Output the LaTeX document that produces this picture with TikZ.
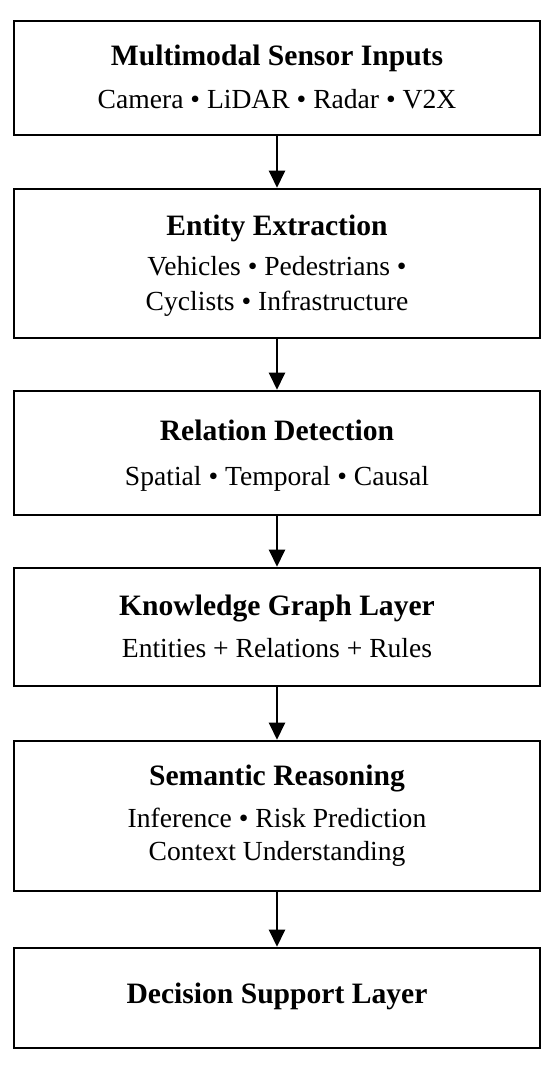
\documentclass[tikz,border=0pt]{standalone}
\usepackage{fontspec}
\setmainfont{Liberation Serif}
\usetikzlibrary{arrows.meta}
\begin{document}
\begin{tikzpicture}[x=1pt,y=-1pt,
  box/.style={draw=black,line width=2.6pt,minimum width=526pt,inner sep=0pt,fill=white},
  ttl/.style={anchor=base,inner sep=0pt,font=\fontsize{29.6}{34}\selectfont\bfseries},
  sub/.style={anchor=base,inner sep=0pt,font=\fontsize{27.6}{34}\selectfont},
  conn/.style={line width=2.4pt,-{Triangle[length=17pt,width=16pt]}}]
\useasboundingbox (0,0) rectangle (550,1069);
\fill[white] (0,0) rectangle (550,1069);
\node[box,minimum height=114pt] (b1) at (277,78) {};
\node[box,minimum height=149pt] (b2) at (277,263.5) {};
\node[box,minimum height=124pt] (b3) at (277,453) {};
\node[box,minimum height=118pt] (b4) at (277,627) {};
\node[box,minimum height=150pt] (b5) at (277,816) {};
\node[box,minimum height=100pt] (b6) at (277,998) {};
\node[ttl] (t1) at (277,65) {Multimodal Sensor Inputs};
\node[sub] (s1) at (277,108) {Camera • LiDAR • Radar • V2X};
\node[ttl] (t2) at (277,235) {Entity Extraction};
\node[sub] (s2a) at (277,275) {Vehicles • Pedestrians •};
\node[sub] (s2b) at (277,310) {Cyclists • Infrastructure};
\node[ttl] (t3) at (277,440) {Relation Detection};
\node[sub] (s3) at (277,485) {Spatial • Temporal • Causal};
\node[ttl] (t4) at (277,615) {Knowledge Graph Layer};
\node[sub] (s4) at (277,657) {Entities + Relations + Rules};
\node[ttl] (t5) at (277,785) {Semantic Reasoning};
\node[sub] (s5a) at (277,827) {Inference • Risk Prediction};
\node[sub] (s5b) at (277,860) {Context Understanding};
\node[ttl] (t6) at (277,1003) {Decision Support Layer};
\draw[conn] (b1.south) -- (b2.north);
\draw[conn] (b2.south) -- (b3.north);
\draw[conn] (b3.south) -- (b4.north);
\draw[conn] (b4.south) -- (b5.north);
\draw[conn] (b5.south) -- (b6.north);
\end{tikzpicture}
\end{document}
